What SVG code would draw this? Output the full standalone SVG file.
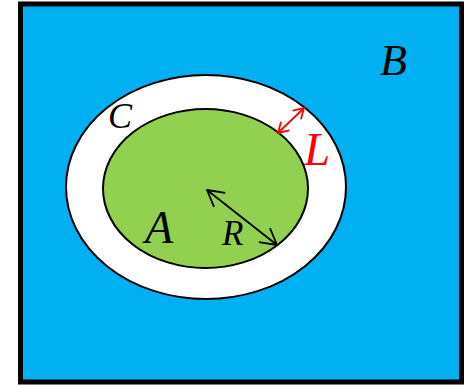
<svg xmlns="http://www.w3.org/2000/svg" width="466" height="385" viewBox="0 0 466 385">
<style>
.lbl{font-family:"Liberation Serif","DejaVu Serif",serif;font-style:italic;}
.ar{fill:none;stroke-width:1.8;stroke-linecap:round;stroke-linejoin:round;}
</style>
<defs>
<marker id="hk" viewBox="0 0 18 20" refX="17" refY="10" markerWidth="18" markerHeight="20" markerUnits="userSpaceOnUse" orient="auto-start-reverse">
<path d="M1,1 L17,10 L1,19" fill="none" stroke="#000" stroke-width="1.8"/>
</marker>
<marker id="hr" viewBox="0 0 12 14" refX="11" refY="7" markerWidth="12" markerHeight="14" markerUnits="userSpaceOnUse" orient="auto-start-reverse">
<path d="M1,1 L11,7 L1,13" fill="none" stroke="#FF0000" stroke-width="1.8"/>
</marker>
</defs>
<g id="B">
<rect x="20.5" y="4" width="441" height="378" fill="#00B0F0" stroke="#000" stroke-width="5"/>
<text class="lbl" x="380" y="75" font-size="44">B</text>
</g>
<g id="C">
<ellipse cx="206" cy="187" rx="140" ry="112" fill="#FFFFFF" stroke="#000" stroke-width="2"/>
<text class="lbl" x="108" y="128" font-size="36">C</text>
</g>
<g id="A">
<ellipse cx="205.5" cy="188.5" rx="102.5" ry="79.5" fill="#92D050" stroke="#000" stroke-width="2"/>
<text class="lbl" x="145" y="243" font-size="46">A</text>
<text class="lbl" x="222" y="245" font-size="35">R</text>
</g>
<g id="connectors">
<line class="ar" x1="207" y1="190" x2="277" y2="245" stroke="#000" marker-start="url(#hk)" marker-end="url(#hk)"/>
<line class="ar" x1="278" y1="133" x2="304" y2="108" stroke="#FF0000" marker-start="url(#hr)" marker-end="url(#hr)"/>
</g>
<text class="lbl" x="304" y="165" font-size="47" fill="#FF0000">L</text>
</svg>
